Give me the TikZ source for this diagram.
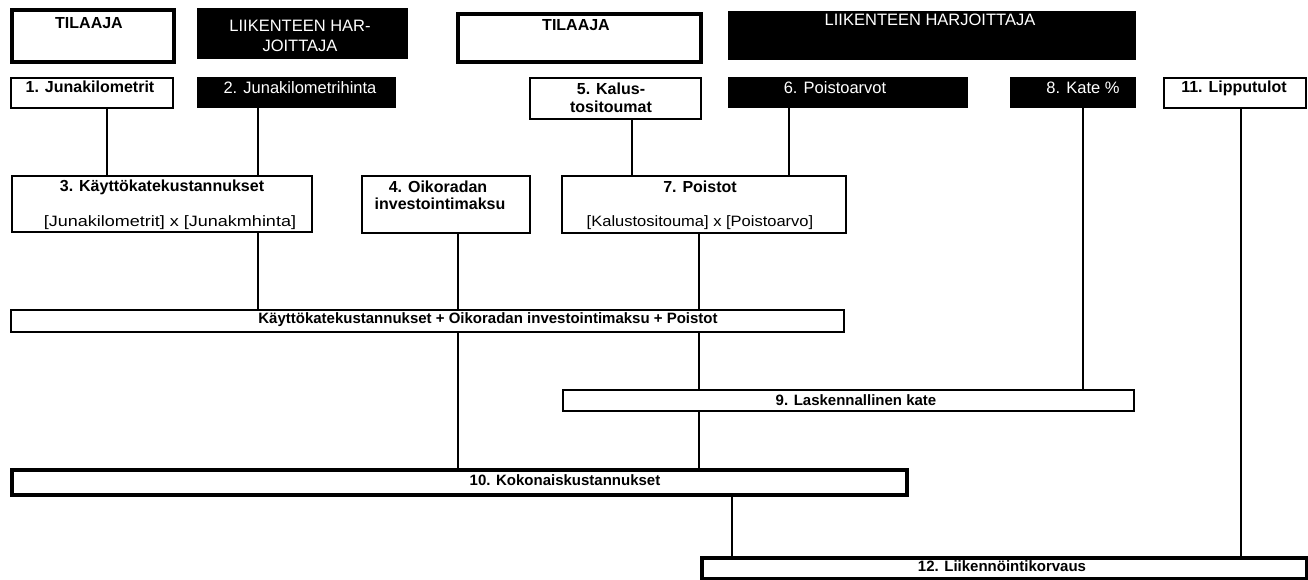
\documentclass[tikz,border=0pt]{standalone}
\usepackage{fontspec}
\setmainfont{Liberation Sans}
\begin{document}
\begin{tikzpicture}[x=1pt,y=-1pt,
  wbox/.style={draw=black, line width=1.6pt, fill=white, inner sep=0pt},
  tbox/.style={draw=black, line width=3.6pt, fill=white, inner sep=0pt},
  bbox/.style={draw=black, fill=black, line width=1pt, inner sep=0pt},
  lab/.style={inner sep=0pt, font=\bfseries\fontsize{16}{18}\selectfont},
  rlab/.style={inner sep=0pt, font=\fontsize{15}{17}\selectfont},
  wlab/.style={inner sep=0pt, text=white, font=\fontsize{16.5}{18}\selectfont},
  slab/.style={inner sep=0pt, font=\bfseries\fontsize{15}{17}\selectfont},
  conn/.style={line width=1.5pt}]
\useasboundingbox (0,0) rectangle (1308,579);
% boxes: corners
\newcommand{\bx}[6]{\node[#1, anchor=north west, minimum width=#4-#2, minimum height=#5-#3] (#6) at (#2,#3) {};}
\newcommand{\hwide}[2]{\scalebox{#1}[1]{#2}}
\bx{tbox}{10}{8}{172}{60}{tA}
\bx{bbox}{197}{8}{407}{58}{lhA}
\bx{tbox}{456}{12}{699}{60}{tB}
\bx{bbox}{728}{11}{1135}{59}{lhB}
\bx{wbox}{10}{77}{172}{107}{b1}
\bx{bbox}{197}{77}{395}{107}{b2}
\bx{wbox}{529}{77}{700}{118}{b5}
\bx{bbox}{728}{77}{967}{107}{b6}
\bx{bbox}{1010}{77}{1135}{107}{b8}
\bx{wbox}{1163}{77}{1305}{107}{b11}
\bx{wbox}{11}{175}{311}{231}{b3}
\bx{wbox}{361}{175}{529}{232}{b4}
\bx{wbox}{561}{175}{845}{232}{b7}
\bx{wbox}{10}{309}{843}{331}{sum}
\bx{wbox}{562}{389}{1133}{410}{b9}
\bx{tbox}{10}{468}{905}{493}{b10}
\bx{tbox}{700}{556}{1305}{577}{b12}
% labels
\node[lab] (ltA) at (89,23) {TILAAJA};
\node[wlab] (llhA1) at (300,26) {LIIKENTEEN HAR-};
\node[wlab] (llhA2) at (300,46) {JOITTAJA};
\node[lab] (ltB) at (576,25) {TILAAJA};
\node[wlab] (llhB) at (930,20) {LIIKENTEEN HARJOITTAJA};
\node[lab] (l1) at (90,87) {1. Junakilometrit};
\node[wlab] (l2) at (300,88) {2. Junakilometrihinta};
\node[lab] (l5a) at (611,89) {5. Kalus-};
\node[lab] (l5b) at (611,107) {tositoumat};
\node[wlab] (l6) at (835,88) {6. Poistoarvot};
\node[wlab] (l8) at (1083,88) {8. Kate \%};
\node[lab] (l11) at (1234,88) {11. Lipputulot};
\node[lab] (l3) at (162,187) {3. Käyttökatekustannukset};
\node[rlab] (l3f) at (170,223) {\hwide{1.2}{[Junakilometrit] x [Junakmhinta]}};
\node[lab] (l4a) at (438,187) {4. Oikoradan};
\node[lab] (l4b) at (440,204) {investointimaksu};
\node[lab] (l7) at (700,187) {7. Poistot};
\node[rlab] (l7f) at (700,223) {\hwide{1.1}{[Kalustositouma] x [Poistoarvo]}};
\node[slab] (lsum) at (488,320) {Käyttökatekustannukset + Oikoradan investointimaksu + Poistot};
\node[slab] (l9) at (856,400) {9. Laskennallinen kate};
\node[slab] (l10) at (565,480) {10. Kokonaiskustannukset};
\node[slab] (l12) at (1002,566) {12. Liikennöintikorvaus};
% connector x positions
\coordinate (x107) at (107,0);
\coordinate (x258) at (258,0);
\coordinate (x458) at (458,0);
\coordinate (x632) at (632,0);
\coordinate (x699) at (699,0);
\coordinate (x732) at (732,0);
\coordinate (x789) at (789,0);
\coordinate (x1083) at (1083,0);
\coordinate (x1241) at (1241,0);
\draw[conn] (b1.south -| x107) -- (b3.north -| x107);
\draw[conn] (b2.south -| x258) -- (b3.north -| x258);
\draw[conn] (b3.south -| x258) -- (sum.north -| x258);
\draw[conn] (b5.south -| x632) -- (b7.north -| x632);
\draw[conn] (b6.south -| x789) -- (b7.north -| x789);
\draw[conn] (b4.south -| x458) -- (sum.north -| x458);
\draw[conn] (sum.south -| x458) -- (b10.north -| x458);
\draw[conn] (b7.south -| x699) -- (sum.north -| x699);
\draw[conn] (sum.south -| x699) -- (b9.north -| x699);
\draw[conn] (b9.south -| x699) -- (b10.north -| x699);
\draw[conn] (b8.south -| x1083) -- (b9.north -| x1083);
\draw[conn] (b11.south -| x1241) -- (b12.north -| x1241);
\draw[conn] (b10.south -| x732) -- (b12.north -| x732);
\end{tikzpicture}
\end{document}
